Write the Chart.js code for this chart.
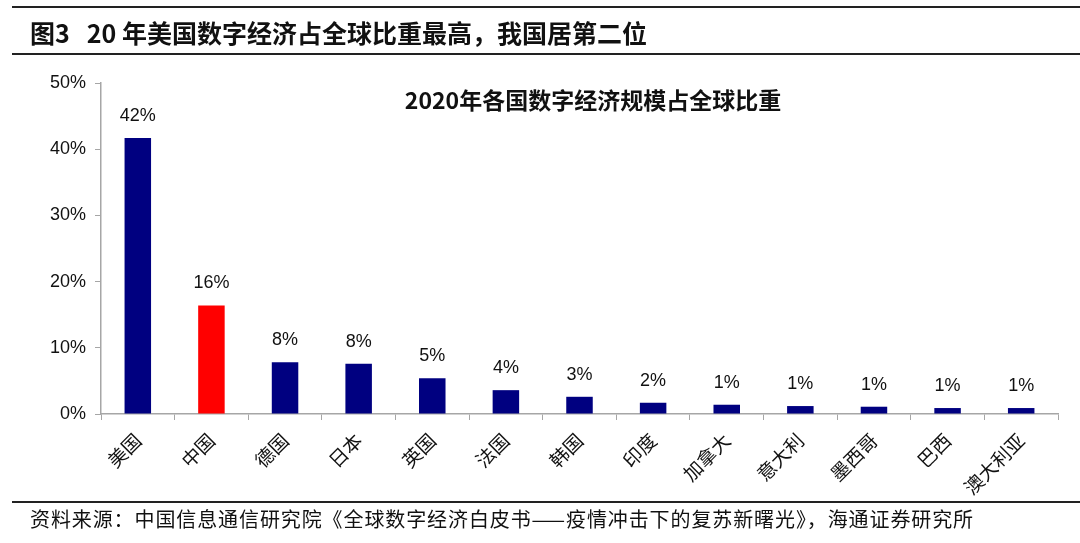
<!DOCTYPE html>
<html>
<head>
<meta charset="utf-8">
<script src="https://cdn.jsdelivr.net/npm/chart.js@4"></script>
<style>
  html,body{margin:0;padding:0;background:#fff;}
  #wrap{position:relative;width:1080px;height:543px;overflow:hidden;}
  canvas{position:absolute;left:0;top:0;}
  .line{position:absolute;left:12px;right:0;height:2px;background:#222;}
  #pageTitle{position:absolute;left:30px;top:16px;font:bold 25px "Noto Sans CJK SC","Liberation Sans",sans-serif;color:#111;line-height:32px;white-space:nowrap;}
  #chartTitle{position:absolute;left:593px;top:85px;transform:translateX(-50%);font:bold 23px "Noto Sans CJK SC","Liberation Sans",sans-serif;color:#111;line-height:28px;white-space:nowrap;}
  #source{position:absolute;left:30px;top:508px;font:20px "Noto Sans CJK SC",sans-serif;letter-spacing:0.9px;color:#111;line-height:22px;white-space:nowrap;}
</style>
</head>
<body>
<div id="wrap">
  <canvas id="c" width="1080" height="543"></canvas>
  <div class="line" style="top:6px"></div>
  <div id="pageTitle">图3&nbsp;&nbsp;&nbsp;20 年美国数字经济占全球比重最高，我国居第二位</div>
  <div class="line" style="top:53px"></div>
  <div id="chartTitle">2020年各国数字经济规模占全球比重</div>
  <div class="line" style="top:501px"></div>
  <div id="source">资料来源：中国信息通信研究院《全球数字经济白皮书——疫情冲击下的复苏新曙光》，海通证券研究所</div>
</div>
<script>
const categories = ["美国","中国","德国","日本","英国","法国","韩国","印度","加拿大","意大利","墨西哥","巴西","澳大利亚"];
const shares = [41.7, 16.4, 7.8, 7.6, 5.4, 3.6, 2.6, 1.7, 1.4, 1.2, 1.1, 0.9, 0.9];
const yTicks = [0, 10, 20, 30, 40, 50];
const highlightCategory = "中国";

const barColors = categories.map(c => c === highlightCategory ? "#ff0000" : "#000080");

const valueLabels = {
  id: "valueLabels",
  afterDatasetsDraw(chart) {
    const ctx = chart.ctx;
    const meta = chart.getDatasetMeta(0);
    ctx.save();
    ctx.font = "18px 'Liberation Sans', Arial, sans-serif";
    ctx.fillStyle = "#111";
    ctx.textAlign = "center";
    ctx.textBaseline = "alphabetic";
    meta.data.forEach((bar, i) => {
      ctx.fillText(Math.round(shares[i]) + "%", bar.x, bar.y - 17);
    });
    ctx.restore();
  }
};

new Chart(document.getElementById("c"), {
  type: "bar",
  data: {
    labels: categories,
    datasets: [{
      data: shares,
      backgroundColor: barColors,
      borderWidth: 0,
      categoryPercentage: 1,
      barPercentage: 0.36
    }]
  },
  options: {
    responsive: false,
    devicePixelRatio: 1,
    animation: false,
    layout: { padding: { top: 83, right: 22, left: 0, bottom: 0 } },
    plugins: { legend: { display: false }, tooltip: { enabled: false }, title: { display: false } },
    scales: {
      x: {
        grid: { display: true, drawOnChartArea: false, drawTicks: true, tickLength: 6, color: "#a6a6a6", offset: true },
        border: { display: true, color: "#a6a6a6", width: 1.5 },
        ticks: {
          color: "#111",
          font: { family: "'Noto Sans CJK SC', sans-serif", size: 19 },
          minRotation: 45, maxRotation: 45, autoSkip: false, padding: 9
        },
        afterFit(s) { s.height = 129; }
      },
      y: {
        min: 0, max: 50,
        afterBuildTicks(s) { s.ticks = yTicks.map(v => ({ value: v })); },
        grid: { display: true, drawOnChartArea: false, drawTicks: true, tickLength: 6, color: "#a6a6a6" },
        border: { display: true, color: "#a6a6a6", width: 1.5 },
        ticks: {
          color: "#111",
          font: { family: "'Liberation Sans', Arial, sans-serif", size: 18 },
          padding: 9,
          callback: v => v + "%"
        },
        afterFit(s) { s.width = 101; }
      }
    }
  },
  plugins: [valueLabels]
});
</script>
</body>
</html>
